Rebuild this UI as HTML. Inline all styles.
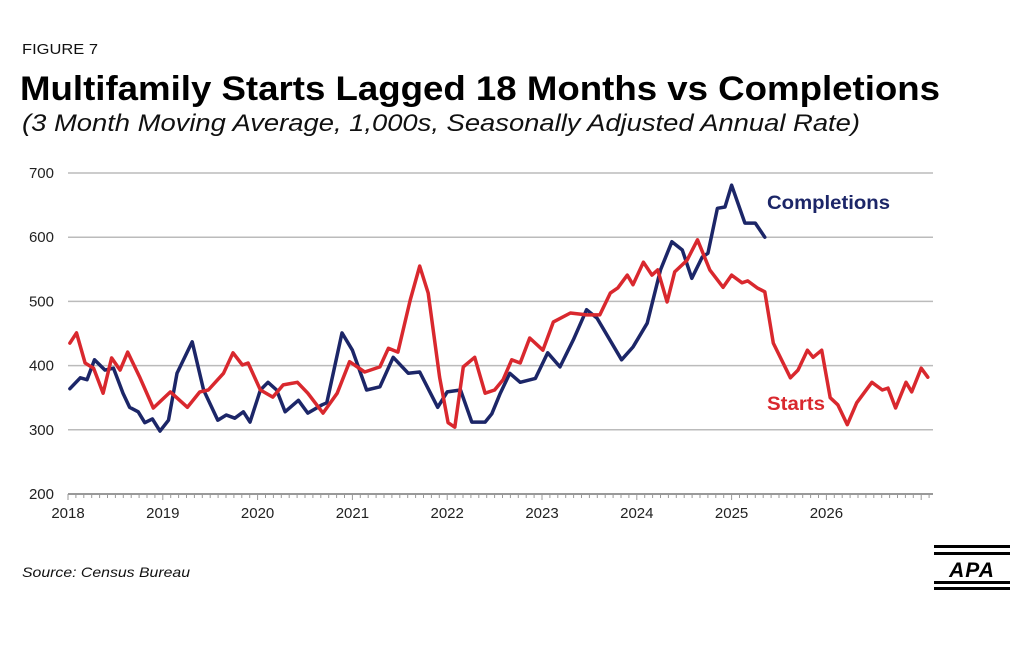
<!DOCTYPE html>
<html><head><meta charset="utf-8"><style>
body{margin:0;background:#fff;width:1026px;height:643px;overflow:hidden;font-family:"Liberation Sans",Arial,sans-serif}
</style></head><body>
<svg width="1026" height="643" viewBox="0 0 1026 643" xmlns="http://www.w3.org/2000/svg">
<text x="22" y="54" font-size="15" fill="#111" textLength="76" lengthAdjust="spacingAndGlyphs">FIGURE 7</text>
<text x="20" y="100" font-size="34" font-weight="bold" fill="#000" textLength="920" lengthAdjust="spacingAndGlyphs">Multifamily Starts Lagged 18 Months vs Completions</text>
<text x="22" y="131" font-size="24" font-style="italic" fill="#111" textLength="838" lengthAdjust="spacingAndGlyphs">(3 Month Moving Average, 1,000s, Seasonally Adjusted Annual Rate)</text>
<g id="grid"></g>
<g id="yticks"></g>
<g id="xticks"></g>
<g id="series"></g>
<text x="767" y="209" font-size="19" font-weight="bold" fill="#1c2668" textLength="123" lengthAdjust="spacingAndGlyphs">Completions</text>
<text x="767" y="410" font-size="19" font-weight="bold" fill="#d9282e" textLength="58" lengthAdjust="spacingAndGlyphs">Starts</text>
<text x="22" y="577" font-size="14" font-style="italic" fill="#111" textLength="168" lengthAdjust="spacingAndGlyphs">Source: Census Bureau</text>
<g>
<rect x="934" y="545" width="76" height="3" fill="#000"/>
<rect x="934" y="552" width="76" height="3" fill="#000"/>
<text x="972" y="577" font-size="21" font-weight="bold" font-style="italic" text-anchor="middle" fill="#000" letter-spacing="1">APA</text>
<rect x="934" y="581" width="76" height="3" fill="#000"/>
<rect x="934" y="587" width="76" height="3" fill="#000"/>
</g>
</svg>
<script>
const yTicks=[200,300,400,500,600,700];
const xTickLabels=["2018","2019","2020","2021","2022","2023","2024","2025","2026"];
const compDates=[2018.02,2018.13,2018.2,2018.28,2018.39,2018.48,2018.58,2018.65,2018.74,2018.81,2018.89,2018.97,2019.06,2019.15,2019.31,2019.43,2019.58,2019.67,2019.76,2019.85,2019.92,2020.03,2020.11,2020.2,2020.29,2020.43,2020.53,2020.68,2020.73,2020.89,2021.0,2021.15,2021.29,2021.43,2021.59,2021.71,2021.9,2022.0,2022.14,2022.26,2022.4,2022.47,2022.56,2022.66,2022.77,2022.93,2023.06,2023.19,2023.33,2023.47,2023.58,2023.84,2023.96,2024.11,2024.25,2024.37,2024.48,2024.58,2024.69,2024.75,2024.85,2024.93,2025.0,2025.14,2025.25,2025.35];
const compValues=[364,381,378,409,393,396,357,335,328,311,317,298,315,388,437,362,315,323,318,328,312,362,374,362,328,346,326,339,342,451,424,362,367,413,388,390,335,359,362,312,312,325,357,388,374,380,420,398,440,487,474,409,429,466,549,593,580,536,569,575,645,647,681,622,622,600];
const startDates=[2018.02,2018.09,2018.18,2018.27,2018.37,2018.46,2018.55,2018.63,2018.76,2018.9,2019.08,2019.26,2019.39,2019.48,2019.64,2019.74,2019.84,2019.9,2020.03,2020.16,2020.27,2020.42,2020.53,2020.69,2020.84,2020.97,2021.13,2021.29,2021.38,2021.48,2021.61,2021.71,2021.8,2021.92,2022.01,2022.08,2022.17,2022.29,2022.4,2022.5,2022.59,2022.68,2022.77,2022.87,2023.01,2023.12,2023.3,2023.47,2023.61,2023.72,2023.8,2023.9,2023.96,2024.07,2024.16,2024.22,2024.32,2024.4,2024.53,2024.64,2024.77,2024.91,2025.0,2025.11,2025.17,2025.27,2025.35,2025.44,2025.62,2025.7,2025.8,2025.86,2025.95,2026.04,2026.12,2026.22,2026.32,2026.48,2026.59,2026.65,2026.73,2026.84,2026.9,2027.0,2027.07];
const startValues=[435,451,404,396,357,412,393,421,381,334,359,335,359,362,388,420,401,404,362,351,370,374,357,326,357,406,390,398,427,421,502,555,513,382,311,304,398,413,357,362,378,409,404,443,424,468,482,479,479,513,521,541,526,561,541,549,499,546,564,596,549,522,541,529,532,521,515,435,381,393,424,413,424,350,339,308,342,374,362,365,334,374,359,396,382];
const NS="http://www.w3.org/2000/svg";
const X0=68,XR=933,PX=94.8,Y200=494,PY=0.642;
const xs=t=>X0+(t-2018)*PX;
const ys=v=>Y200-(v-200)*PY;
const grid=document.getElementById('grid'),yt=document.getElementById('yticks'),xt=document.getElementById('xticks'),ser=document.getElementById('series');
yTicks.forEach(v=>{
  const l=document.createElementNS(NS,'line');
  l.setAttribute('x1',X0);l.setAttribute('x2',XR);l.setAttribute('y1',ys(v));l.setAttribute('y2',ys(v));
  l.setAttribute('stroke',v===200?'#999':'#bbb');l.setAttribute('stroke-width',v===200?2:1.5);
  
  
  grid.appendChild(l);
  const t=document.createElementNS(NS,'text');
  t.setAttribute('x',54);t.setAttribute('y',ys(v)+5);t.setAttribute('text-anchor','end');t.setAttribute('font-size','15');t.setAttribute('fill','#222');
  t.textContent=v;
  
  
  yt.appendChild(t);
});
for(let m=0;m<=Math.round((XR-X0)/PX*12);m++){
  const x=X0+m*PX/12;
  const l=document.createElementNS(NS,'line');
  l.setAttribute('x1',x);l.setAttribute('x2',x);l.setAttribute('y1',494);l.setAttribute('y2',m%12===0?500:498);
  l.setAttribute('stroke','#999');l.setAttribute('stroke-width',1);
  
  
  xt.appendChild(l);
}
xTickLabels.forEach((s,i)=>{
  const t=document.createElementNS(NS,'text');
  t.setAttribute('x',xs(2018+i));t.setAttribute('y',518);t.setAttribute('text-anchor','middle');t.setAttribute('font-size','15');t.setAttribute('fill','#222');
  t.textContent=s;
  
  
  xt.appendChild(t);
});
function draw(d,v,c,name){
  const p=document.createElementNS(NS,'polyline');
  p.setAttribute('points',d.map((t,i)=>xs(t).toFixed(1)+','+ys(v[i]).toFixed(1)).join(' '));
  p.setAttribute('fill','none');p.setAttribute('stroke',c);p.setAttribute('stroke-width',3.5);
  p.setAttribute('stroke-linejoin','round');p.setAttribute('stroke-linecap','round');
  
  
  ser.appendChild(p);
}
draw(compDates,compValues,'#1c2668','completions-line');
draw(startDates,startValues,'#d9282e','starts-line');
</script>
</body></html>
